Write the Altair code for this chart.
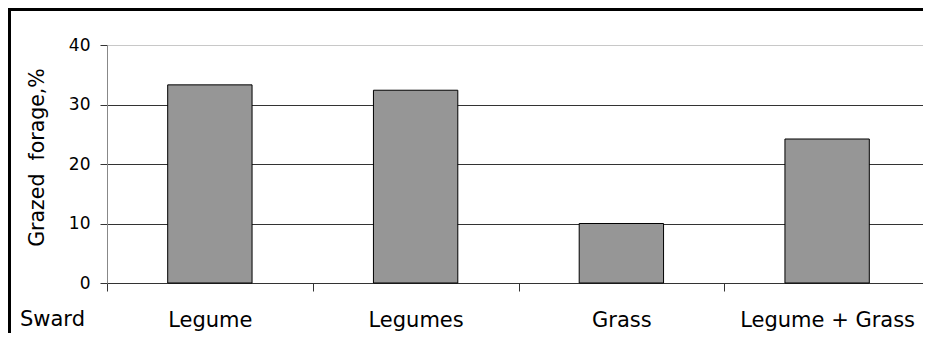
import altair as alt
import pandas as pd

categories = ["Legume", "Legumes", "Grass", "Legume + Grass"]
values = [33.3, 32.4, 10.0, 24.2]
y_ticks = [0, 10, 20, 30, 40]
row_label = "Sward"
y_title = "Grazed\u00a0\u00a0forage,%"

df = pd.DataFrame({"sward": categories, "grazed": values})
lab = pd.DataFrame({"t": [row_label]})
frame = pd.DataFrame({"a": [0]})

W, H = 816, 238
XR = 823
PAD_B = 50
FONT = "DejaVu Sans"

x = alt.X(
    "sward:N", sort=categories,
    scale=alt.Scale(paddingInner=0, paddingOuter=0, range=[0, XR]),
    axis=alt.Axis(title=None, labelAngle=0, labelFont=FONT, labelFontSize=21,
                  labelColor="black", labelBaseline="alphabetic", labelPadding=35,
                  tickBand="extent", tickSize=8, tickColor="#333", domainColor="#333",
                  grid=False, labelLimit=0),
)
y = alt.Y(
    "grazed:Q", scale=alt.Scale(domain=[0, 40], nice=False),
    axis=alt.Axis(values=y_ticks, title=y_title, titleFont=FONT, titleFontSize=20.5,
                  titleFontWeight="normal", titleColor="black", titleAngle=270,
                  titleX=-64, titleY=112, titleAlign="center", titleBaseline="alphabetic",
                  labelFont=FONT, labelFontSize=17, labelColor="black", labelPadding=10,
                  tickSize=7, tickColor="#333", domainColor="#888", grid=True,
                  gridColor=alt.condition("datum.value == 40", alt.value("#c8c8c8"), alt.value("#333")),
                  gridOpacity=1),
)

bars = alt.Chart(df).mark_bar(
    width=alt.RelativeBandSize(0.41), fill="#969696", stroke="black", strokeWidth=1
).encode(x=x, y=y)

sward = alt.Chart(lab).mark_text(
    align="left", baseline="alphabetic", font=FONT, fontSize=21, color="black"
).encode(x=alt.value(-87), y=alt.value(281), text="t:N")

top_edge = alt.Chart(frame).mark_rule(color="black", strokeWidth=3).encode(
    x=alt.value(-99), x2=alt.value(W), y=alt.value(-35.5)
)
left_edge = alt.Chart(frame).mark_rule(color="black", strokeWidth=3).encode(
    x=alt.value(-97.5), y=alt.value(-37), y2=alt.value(H + PAD_B)
)

chart = alt.layer(bars, sward, top_edge, left_edge).properties(
    width=W, height=H,
    autosize=alt.AutoSizeParams(type="none"),
    padding={"left": 99, "top": 37, "right": 0, "bottom": PAD_B},
).configure_view(stroke="transparent")

chart.save("out.html", embed_options={"renderer": "svg", "actions": False})
